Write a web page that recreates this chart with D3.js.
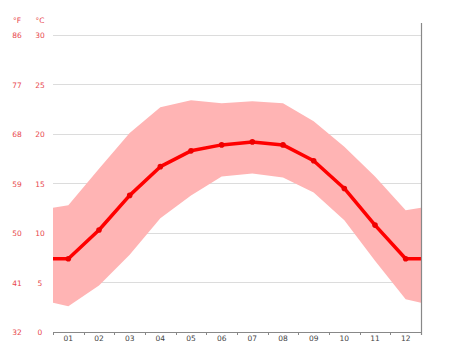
<!DOCTYPE html>
<html><head><meta charset="utf-8">
<script src="https://cdn.jsdelivr.net/npm/d3@7"></script>
<style>body{margin:0;background:#fff}svg{display:block}</style>
</head><body>
<script>
const months = ["01","02","03","04","05","06","07","08","09","10","11","12"];
const avgTemp = [7.4,10.3,13.8,16.7,18.3,18.9,19.2,18.9,17.3,14.5,10.8,7.4];
const maxTemp = [12.8,16.5,20.1,22.7,23.4,23.1,23.3,23.1,21.3,18.7,15.7,12.3];
const minTemp = [2.6,4.7,7.8,11.5,13.8,15.7,16.0,15.6,14.1,11.3,7.2,3.3];
const cTicks = [0,5,10,15,20,25,30];
const fTicks = ["32","41","50","59","68","77","86"];

const W=474,H=355;
const L=53,R=421,T=35,B=332;
const svg=d3.select("body").append("svg").attr("width",W).attr("height",H);
const x=d3.scaleBand().domain(months).range([L,R]);
const y=d3.scaleLinear().domain([0,30]).range([B,T]);
const cx=m=>x(m)+x.bandwidth()/2;

// gridlines
svg.append("g").selectAll("line").data(cTicks.filter(d=>d>0)).join("line")
  .attr("x1",L).attr("x2",R).attr("y1",d=>y(d)).attr("y2",d=>y(d))
  .attr("stroke","#dcdcdc").attr("stroke-width",1).attr("shape-rendering","crispEdges");

// extended points including edges
const n=months.length;
const edgeMax0=(maxTemp[0]+maxTemp[n-1])/2, edgeMin0=(minTemp[0]+minTemp[n-1])/2, edgeAvg=(avgTemp[0]+avgTemp[n-1])/2;
const pts=[{x:L,max:edgeMax0,min:edgeMin0,avg:edgeAvg}]
  .concat(months.map((m,i)=>({x:cx(m),max:maxTemp[i],min:minTemp[i],avg:avgTemp[i]})))
  .concat([{x:R,max:edgeMax0,min:edgeMin0,avg:edgeAvg}]);

svg.append("path").datum(pts)
  .attr("d",d3.area().x(d=>d.x).y0(d=>y(d.min)).y1(d=>y(d.max)))
  .attr("fill","#ffb4b4");

svg.append("path").datum(pts)
  .attr("d",d3.line().x(d=>d.x).y(d=>y(d.avg)))
  .attr("fill","none").attr("stroke","#f00").attr("stroke-width",3.5).attr("stroke-linejoin","round");

svg.append("g").selectAll("circle").data(months).join("circle")
  .attr("cx",d=>cx(d)).attr("cy",(d,i)=>y(avgTemp[i])).attr("r",2.8).attr("fill","#e00");

// bottom axis
const ax=svg.append("g").attr("transform",`translate(0,${B})`)
  .call(d3.axisBottom(x).tickSize(0).tickPadding(4));
ax.select(".domain").remove();
ax.selectAll("text").attr("fill","#444").attr("font-family","DejaVu Sans, sans-serif").attr("font-size",7.5);
svg.append("line").attr("x1",L).attr("x2",R).attr("y1",B+0.5).attr("y2",B+0.5).attr("stroke","#888").attr("stroke-width",1);
const bounds=months.map(m=>x(m)).concat([R]);
svg.append("g").selectAll("line").data(bounds).join("line")
  .attr("x1",d=>Math.round(d)+0.5).attr("x2",d=>Math.round(d)+0.5).attr("y1",B).attr("y2",B+3)
  .attr("stroke","#888");

// right vertical line
svg.append("line").attr("x1",R+0.5).attr("x2",R+0.5).attr("y1",23).attr("y2",B+3).attr("stroke","#888").attr("stroke-width",1.2);

// left labels
const lab=svg.append("g").attr("font-family","DejaVu Sans, sans-serif").attr("font-size",7.5).attr("fill","#e8474c");
lab.selectAll(".c").data(cTicks).join("text").attr("x",40).attr("y",d=>y(d)+3).attr("text-anchor","middle").text(d=>d);
lab.selectAll(".f").data(cTicks).join("text").attr("x",17).attr("y",(d,i)=>y(d)+3).attr("text-anchor","middle").text((d,i)=>fTicks[i]);
lab.append("text").attr("x",17).attr("y",23).attr("text-anchor","middle").text("°F");
lab.append("text").attr("x",40).attr("y",23).attr("text-anchor","middle").text("°C");
</script>
</body></html>
